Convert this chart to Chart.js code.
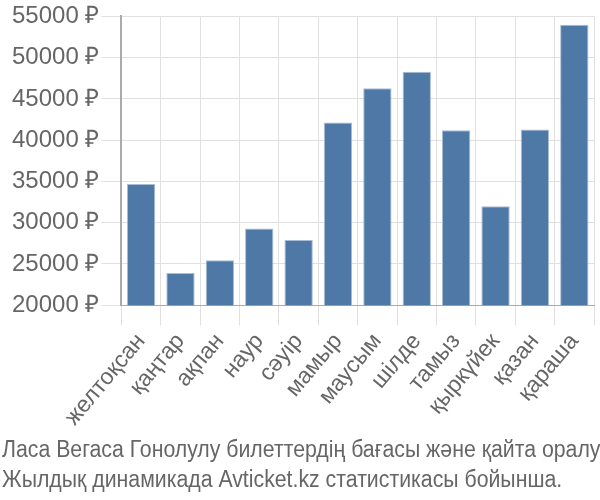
<!DOCTYPE html>
<html>
<head>
<meta charset="utf-8">
<script src="https://cdn.jsdelivr.net/npm/chart.js@4/dist/chart.umd.min.js"></script>
<style>
  html, body { margin: 0; padding: 0; background: #fff; }
  #wrap { width: 600px; height: 500px; }
</style>
</head>
<body>
<div id="wrap"><canvas id="chart"></canvas></div>
<script>
// Months and average ticket prices
const months = ['желтоқсан', 'қаңтар', 'ақпан', 'наур', 'сәуір', 'мамыр', 'маусым', 'шілде', 'тамыз', 'қыркүйек', 'қазан', 'қараша'];
const prices = [34700, 23900, 25450, 29300, 27900, 42150, 46300, 48300, 41200, 32000, 41300, 54000];
const titleLines = ['Ласа Вегаса Гонолулу билеттердің бағасы және қайта оралу', 'Жылдық динамикада Avticket.kz статистикасы бойынша.'];

// Bottom caption, drawn left aligned in a condensed style
const captionPlugin = {
    id: 'caption',
    afterDraw(chart) {
        const c = chart.ctx;
        c.save();
        c.font = '23px "Liberation Sans", Arial, sans-serif';
        c.fillStyle = '#666';
        c.textBaseline = 'alphabetic';
        const baselines = [457, 487];
        titleLines.forEach((line, i) => {
            c.save();
            c.translate(2, baselines[i]);
            c.scale(0.925, 1);
            c.fillText(line, 0, 0);
            c.restore();
        });
        c.restore();
    }
};

const ctx = document.getElementById('chart').getContext('2d');
new Chart(ctx, {
    type: 'bar',
    data: {
        labels: months,
        datasets: [{
            data: prices,
            backgroundColor: '#4e79a7',
            borderColor: '#a9bdd4',
            borderWidth: 1,
            barPercentage: 0.8,
            categoryPercentage: 0.9
        }]
    },
    plugins: [captionPlugin],
    options: {
        responsive: true,
        maintainAspectRatio: false,
        animation: false,
        layout: { padding: { top: 3, right: 6, left: 10, bottom: 66 } },
        plugins: {
            legend: { display: false },
            tooltip: { enabled: false }
        },
        scales: {
            x: {
                grid: { color: '#e0e0e0', tickLength: 20 },
                border: { color: '#aaa' },
                ticks: {
                    color: '#666',
                    autoSkip: false,
                    minRotation: 50,
                    maxRotation: 50,
                    font: { family: '"Liberation Sans", Arial, sans-serif', size: 23 }
                }
            },
            y: {
                min: 20000,
                max: 55000,
                grid: { color: '#e0e0e0', tickLength: 20 },
                border: { color: '#aaa', width: 2 },
                ticks: {
                    stepSize: 5000,
                    color: '#666',
                    padding: 2,
                    font: { family: '"Liberation Sans", Arial, sans-serif', size: 24 },
                    callback: function(value) {
                        return value + ' ₽';
                    }
                }
            }
        }
    }
});
</script>
</body>
</html>
